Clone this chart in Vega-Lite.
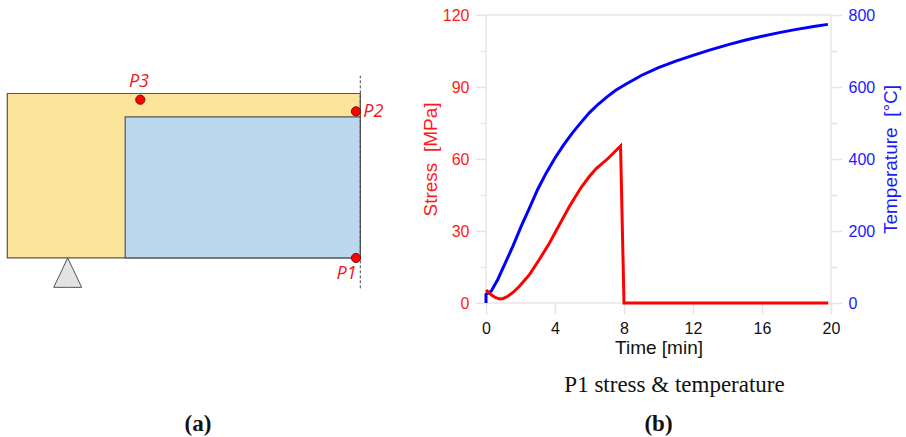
{
"$schema":"https://vega.github.io/schema/vega-lite/v6.json",
"padding":{"left":0,"top":6,"right":0,"bottom":0},
"background":"white",
"spacing":20,
"config":{"font":"Liberation Sans"},
"hconcat":[
{"width":400,"height":400,"view":{"stroke":null},
 "layer":[
  {"data":{"values":[{"part":"beam","x":0,"x2":10,"y":0,"y2":4.66},{"part":"core","x":3.34,"x2":10,"y":0,"y2":4.0}]},
   "mark":{"type":"rect","stroke":"#555555","strokeWidth":1.2},
   "encoding":{
    "x":{"field":"x","type":"quantitative","scale":{"domain":[-0.207,11.125],"nice":false,"zero":false},"axis":null},
    "x2":{"field":"x2"},
    "y":{"field":"y","type":"quantitative","scale":{"domain":[-4.45,6.884],"nice":false,"zero":false},"axis":null},
    "y2":{"field":"y2"},
    "fill":{"field":"part","type":"nominal","scale":{"domain":["beam","core"],"range":["#fde49b","#bdd7ee"]},"legend":null}}},
  {"data":{"values":[{"x":1.314,"y":-0.833},{"x":1.711,"y":0},{"x":2.108,"y":-0.833}]},
   "mark":{"type":"area","fill":"#e3e3e3","stroke":"#555555","strokeWidth":1},
   "encoding":{
    "x":{"field":"x","type":"quantitative"},
    "y":{"field":"y","type":"quantitative"},
    "y2":{"datum":-0.833}}},
  {"data":{"values":[{"x":10,"y":-0.861,"y2":5.164}]},
   "mark":{"type":"rule","color":"#444444","strokeWidth":1,"strokeDash":[3,2]},
   "encoding":{"x":{"field":"x","type":"quantitative"},"y":{"field":"y","type":"quantitative"},"y2":{"field":"y2"}}},
  {"data":{"values":[{"x":3.768,"y":4.484},{"x":9.878,"y":4.153},{"x":9.878,"y":0}]},
   "mark":{"type":"point","filled":true,"shape":"circle","size":85,"fill":"#ff0000","stroke":"#7a1010","strokeWidth":1,"opacity":1},
   "encoding":{"x":{"field":"x","type":"quantitative"},"y":{"field":"y","type":"quantitative"}}},
  {"data":{"values":[{"x":3.73,"y":4.994,"label":"P3"},{"x":10.37,"y":4.125,"label":"P2"},{"x":9.61,"y":-0.453,"label":"P1"}]},
   "mark":{"type":"text","font":"Open Sans","fontStyle":"italic","fontSize":18,"color":"#f01818","align":"center","baseline":"middle"},
   "encoding":{"x":{"field":"x","type":"quantitative"},"y":{"field":"y","type":"quantitative"},"text":{"field":"label"}}},
  {"data":{"values":[{"x":5.4,"y":-4.694,"label":"(a)"}]},
   "mark":{"type":"text","font":"Liberation Serif","fontWeight":"bold","fontSize":23,"color":"#111111","align":"center","baseline":"middle"},
   "encoding":{"x":{"field":"x","type":"quantitative"},"y":{"field":"y","type":"quantitative"},"text":{"field":"label"}}}
 ]},
{"width":345,"height":288,"view":{"stroke":"#e8e8e8","strokeWidth":1.5},
 "resolve":{"scale":{"y":"independent"},"axis":{"y":"independent"}},
 "layer":[
  {"data":{"values":[
    {"t":0,"temp":0},{"t":0,"temp":24},{"t":0.3,"temp":33},{"t":0.69,"temp":66},{"t":1.08,"temp":107},{"t":1.56,"temp":158},{"t":2.05,"temp":214},{"t":2.53,"temp":265},{"t":3.0,"temp":316},{"t":3.5,"temp":362},{"t":4,"temp":403},{"t":4.5,"temp":439},{"t":5,"temp":472},{"t":5.5,"temp":501},{"t":6,"temp":529},{"t":6.5,"temp":552},{"t":7,"temp":572},{"t":7.5,"temp":590},{"t":8,"temp":605},{"t":9,"temp":632},{"t":10,"temp":654},{"t":11,"temp":672},{"t":12,"temp":688},{"t":13,"temp":703},{"t":14,"temp":717},{"t":15,"temp":730},{"t":16,"temp":741},{"t":17,"temp":751},{"t":18,"temp":760},{"t":19,"temp":768},{"t":19.82,"temp":774}]},
   "mark":{"type":"line","color":"#0000ff","strokeWidth":3},
   "encoding":{
    "x":{"field":"t","type":"quantitative","scale":{"domain":[0,20],"nice":false},
      "axis":{"title":"Time [min]","values":[0,2,4,6,8,10,12,14,16,18,20],"labelExpr":"datum.value % 4 == 0 ? datum.label : ''","labelFlush":false,"grid":false,"domain":false,"tickColor":"#e4e4e4","tickWidth":1.5,"tickSize":{"condition":{"test":"datum.value % 4 == 0","value":11},"value":6},"labelFontSize":16,"labelColor":"#111111","labelPadding":6,"labelOverlap":false,"titleFontSize":19,"titleFontWeight":"normal","titleColor":"#111111","titlePadding":2}},
    "y":{"field":"temp","type":"quantitative","scale":{"domain":[0,800],"nice":false},
      "axis":{"orient":"right","title":"Temperature\u00a0\u00a0[°C]","titleAngle":270,"titleBaseline":"top","values":[0,100,200,300,400,500,600,700,800],"labelExpr":"datum.value % 200 == 0 ? datum.label : ''","labelFlush":false,"grid":false,"domain":false,"tickColor":"#e4e4e4","tickWidth":1.5,"tickSize":{"condition":{"test":"datum.value % 200 == 0","value":11},"value":6},"labelFontSize":16,"labelColor":"#1a1aff","labelPadding":6,"labelOverlap":false,"titleFontSize":19,"titleFontWeight":"normal","titleColor":"#1a1aff","titlePadding":7}}}},
  {"data":{"values":[
    {"t":0,"stress":5.4},{"t":0.2,"stress":4},{"t":0.4,"stress":2.9},{"t":0.6,"stress":2.1},{"t":0.8,"stress":1.7},{"t":1.0,"stress":1.9},{"t":1.27,"stress":2.8},{"t":1.6,"stress":4.6},{"t":1.95,"stress":7.1},{"t":2.53,"stress":11.9},{"t":3.1,"stress":18.2},{"t":3.69,"stress":25.1},{"t":4.27,"stress":32.8},{"t":4.85,"stress":40.4},{"t":5.52,"stress":48.2},{"t":6.0,"stress":52.8},{"t":6.39,"stress":56},{"t":7.07,"stress":60.2},{"t":7.8,"stress":65.4},{"t":8.0,"stress":0},{"t":19.84,"stress":0}]},
   "mark":{"type":"line","color":"#ff0000","strokeWidth":3},
   "encoding":{
    "x":{"field":"t","type":"quantitative","scale":{"domain":[0,20],"nice":false}},
    "y":{"field":"stress","type":"quantitative","scale":{"domain":[0,120],"nice":false},
      "axis":{"orient":"left","title":"Stress\u00a0\u00a0[MPa]","values":[0,15,30,45,60,75,90,105,120],"labelExpr":"datum.value % 30 == 0 ? datum.label : ''","labelFlush":false,"grid":false,"domain":false,"tickColor":"#e4e4e4","tickWidth":1.5,"tickSize":{"condition":{"test":"datum.value % 30 == 0","value":11},"value":6},"labelFontSize":16,"labelColor":"#ff1a1a","labelPadding":6,"labelOverlap":false,"titleFontSize":19,"titleFontWeight":"normal","titleColor":"#ff1a1a","titlePadding":2}}}},
  {"data":{"values":[{"t":10.93,"y":-34.2,"label":"P1 stress & temperature"}]},
   "mark":{"type":"text","font":"Liberation Serif","fontSize":23,"color":"#111111","align":"center","baseline":"middle"},
   "encoding":{
    "x":{"field":"t","type":"quantitative","scale":{"domain":[0,20],"nice":false}},
    "y":{"field":"y","type":"quantitative","scale":{"domain":[0,120],"nice":false},"axis":null},
    "text":{"field":"label"}}},
  {"data":{"values":[{"t":10,"y":-50.4,"label":"(b)"}]},
   "mark":{"type":"text","font":"Liberation Serif","fontWeight":"bold","fontSize":23,"color":"#111111","align":"center","baseline":"middle"},
   "encoding":{
    "x":{"field":"t","type":"quantitative","scale":{"domain":[0,20],"nice":false}},
    "y":{"field":"y","type":"quantitative","scale":{"domain":[0,120],"nice":false},"axis":null},
    "text":{"field":"label"}}}
 ]}
]}
